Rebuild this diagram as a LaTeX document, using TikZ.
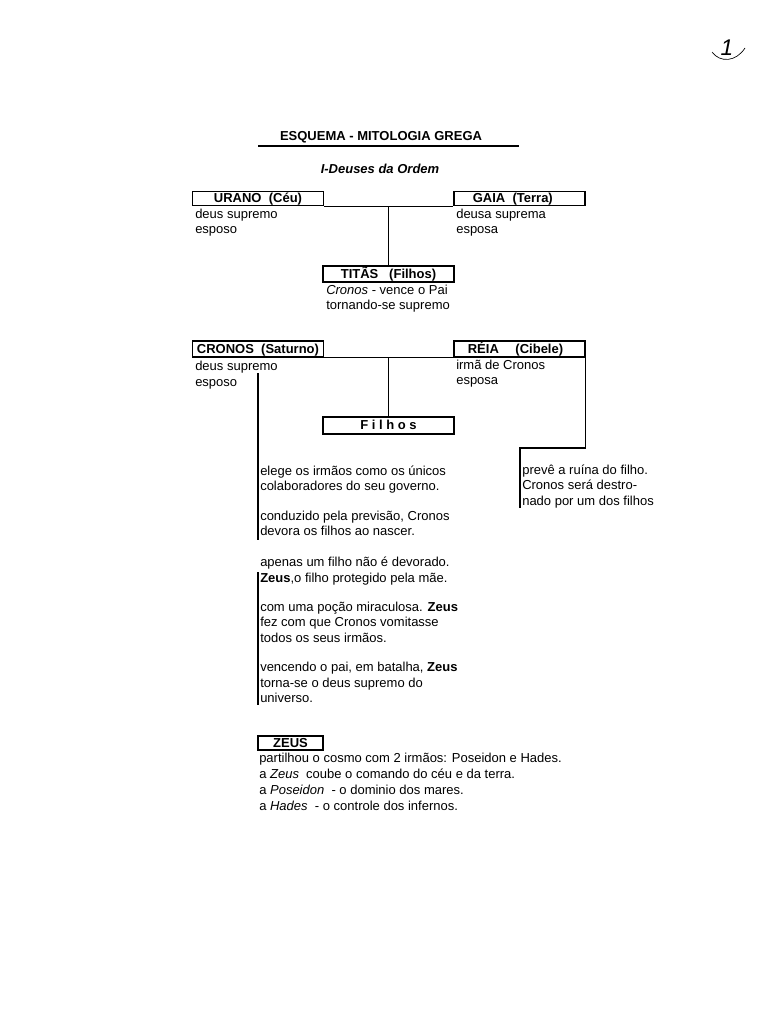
\documentclass[tikz,border=0pt]{standalone}
\usepackage{fontspec}
\setmainfont{Liberation Sans}
\newcommand\myfs{\fontsize{9.75pt}{12pt}\selectfont}
\begin{document}
\begin{tikzpicture}[x=0.75pt,y=-0.75pt,
  every node/.style={inner sep=0pt, font=\myfs},
  box/.style={draw, line width=1.05pt, minimum width=98pt, minimum height=10.5pt,
    text height=8.25pt, text depth=2.25pt, font=\myfs\bfseries},
  conn/.style={line width=1.05pt},
  txt/.style={anchor=base west, font=\myfs}]
\useasboundingbox[fill=white] (0,0) rectangle (768,1024);

% page number
\node[anchor=base, font=\fontsize{17pt}{17pt}\selectfont\itshape] (pg) at (727,56) {1};
\draw[line width=0.5pt] (712,52) .. controls (720,63) and (736,62) .. (745,48);

% title
\node[anchor=base, font=\myfs\bfseries] (title) at (381,140.5) {ESQUEMA - MITOLOGIA GREGA};
\coordinate (u1) at (258,146);
\coordinate (u2) at (519,146);
\draw[line width=2pt] (u1) -- (u2);
\node[anchor=base, font=\myfs\bfseries\itshape] (sub) at (380,173) {I-Deuses da Ordem};

% Urano / Gaia
\node[box] (urano) at (258,198.5) {URANO\ \ (Céu)};
\node[box] (gaia) at (519.5,198.5) {GAIA\ \ (Terra)\hspace*{10pt}};
\node[box, minimum height=12pt, text height=9.5pt, text depth=2.5pt] (titas) at (388.5,274) {TITÃS\ \ \ (Filhos)};
\draw[conn] (urano.south east) -- (gaia.south west);
\draw[conn] (titas.north) -- (titas.north |- urano.south);

\node[txt] (u1t) at (195,218) {deus supremo};
\node[txt] (u2t) at (195,233.5) {esposo};
\node[txt] (g1t) at (456,218) {deusa suprema};
\node[txt] (g2t) at (456,233.5) {esposa};
\node[txt] (t1t) at (326,294) {\textit{Cronos}\ - vence o Pai};
\node[txt] (t2t) at (326,309.5) {tornando-se supremo};

% Cronos / Reia
\node[box, minimum height=12pt, text height=9.5pt, text depth=2.5pt] (cronos) at (258,349) {CRONOS\ \ (Saturno)};
\node[box, minimum height=12pt, text height=9.5pt, text depth=2.5pt] (reia) at (519.5,349) {RÉIA\quad\ (Cibele)\hspace*{6pt}};
\node[box, minimum height=12.75pt] (filhos) at (388.5,425.5) {F i l h o s};
\draw[conn] (cronos.south east) -- (reia.south west);
\draw[conn] (filhos.north) -- (filhos.north |- cronos.south);

\node[txt] (c1t) at (195,370.5) {deus supremo};
\node[txt] (c2t) at (195,386) {esposo};
\node[txt] (r1t) at (456,369) {irmã de Cronos};
\node[txt] (r2t) at (456,384.5) {esposa};

% right branch
\coordinate (rc) at (520,448);
\coordinate (re) at (520,508);
\draw[conn] (reia.south east) |- (rc) -- (re);
\node[txt] (p1) at (522,474) {prevê a ruína do filho.};
\node[txt] (p2) at (522,489.5) {Cronos será destro-};
\node[txt] (p3) at (522,505) {nado por um dos filhos};

% left branch
\coordinate (la) at (258,373);
\coordinate (lb) at (258,540);
\coordinate (lc) at (258,572);
\coordinate (ld) at (258,705);
\draw[conn] (la) -- (lb);
\draw[conn] (lc) -- (ld);

\node[txt] (e1) at (260,475) {elege os irmãos como os únicos};
\node[txt] (e2) at (260,490.5) {colaboradores do seu governo.};
\node[txt] (e3) at (260,520) {conduzido pela previsão, Cronos};
\node[txt] (e4) at (260,535.5) {devora os filhos ao nascer.};
\node[txt] (e5) at (260,566.5) {apenas um filho não é devorado.};
\node[txt] (e6) at (260,582) {\textbf{Zeus},o filho protegido pela mãe.};
\node[txt] (e7) at (260,611) {com uma poção miraculosa. \textbf{Zeus}};
\node[txt] (e8) at (260,626.5) {fez com que Cronos vomitasse};
\node[txt] (e9) at (260,642) {todos os seus irmãos.};
\node[txt] (e10) at (260,671) {vencendo o pai, em batalha, \textbf{Zeus}};
\node[txt] (e11) at (260,687) {torna-se o deus supremo do};
\node[txt] (e12) at (260,702) {universo.};

% Zeus
\node[box, minimum width=48.75pt] (zeus) at (290.5,743) {ZEUS};
\node[txt] (z1) at (259,762) {partilhou o cosmo com 2 irmãos: Poseidon e Hades.};
\node[txt] (z2) at (259,778) {a \textit{Zeus}\ \ coube o comando do céu e da terra.};
\node[txt] (z3) at (259,794) {a \textit{Poseidon}\ \ - o dominio dos mares.};
\node[txt] (z4) at (259,810) {a \textit{Hades}\ \ - o controle dos infernos.};
\end{tikzpicture}
\end{document}
